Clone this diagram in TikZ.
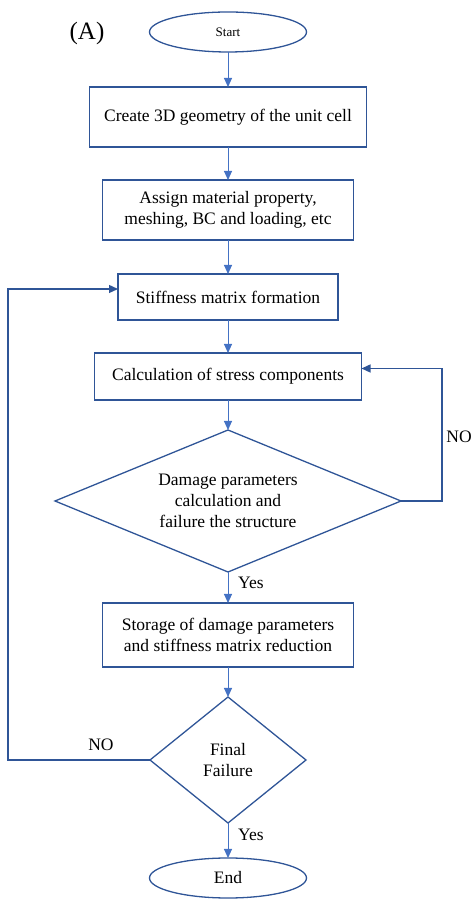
\documentclass[tikz,border=0pt]{standalone}
\usepackage{fontspec}
\setmainfont{Liberation Serif}
\usetikzlibrary{shapes.geometric, arrows.meta, positioning}
\definecolor{boxblue}{RGB}{47,85,151}
\definecolor{arrowblue}{RGB}{68,114,196}

\begin{document}
\begin{tikzpicture}[x=1pt, y=1pt, font=\fontsize{17.5}{21}\selectfont,
    flowbox/.style={draw=boxblue, line width=1.3pt, rectangle, align=center, inner sep=0pt, outer sep=0pt},
    terminal/.style={draw=boxblue, line width=1.3pt, ellipse, minimum width=157pt, minimum height=40pt, inner sep=0pt, outer sep=0pt},
    decision/.style={draw=boxblue, line width=1.3pt, diamond, align=center, inner sep=0pt, outer sep=0pt, shape aspect=2},
    flowarrow/.style={draw=arrowblue, line width=1pt, -{Triangle[length=9pt, width=8pt]}},
    looparrow/.style={draw=boxblue, line width=1.3pt, -{Triangle[length=9pt, width=8pt]}}]
  \useasboundingbox (0,0) rectangle (472,900);

  \node[font=\fontsize{25}{28}\selectfont] (label) at (87,867) {(A)};

  \node[terminal, font=\fontsize{13}{15}\selectfont] (start) at (228,868) {Start};
  \node[flowbox, minimum width=277pt, minimum height=60pt, below=35pt of start]
    (geom) {Create 3D geometry of the unit cell};
  \node[flowbox, minimum width=251pt, minimum height=60pt, below=33pt of geom]
    (assign) {Assign material property,\\meshing, BC and loading, etc};
  \node[flowbox, minimum width=220pt, minimum height=46pt, below=34pt of assign]
    (stiff) {Stiffness matrix formation};
  \node[flowbox, minimum width=267pt, minimum height=47pt, below=33pt of stiff]
    (stress) {Calculation of stress components};

  \node[decision, minimum width=346pt, minimum height=142pt, below=30pt of stress]
    (damage) {Damage parameters\\calculation and\\failure the structure};
  \node[flowbox, minimum width=251pt, minimum height=64pt, below=31pt of damage]
    (storage) {Storage of damage parameters\\and stiffness matrix reduction};
  \node[decision, minimum width=156pt, minimum height=126pt, below=30pt of storage]
    (final) {Final\\Failure};
  \node[terminal, below=35pt of final] (end) {End};

  \foreach \a/\b in {start/geom, geom/assign, assign/stiff, stiff/stress,
                     stress/damage, damage/storage, storage/final, final/end}
    \draw[flowarrow] (\a) -- (\b);

  % feedback loops
  \draw[looparrow] (damage.east) -- ++(41,0) |- ([yshift=8pt]stress.east);
  \draw[looparrow] (final.west) -- ++(-142,0) |- ([yshift=8pt]stiff.west);

  \node[inner sep=0pt, anchor=west] (yes1) at ([xshift=10pt, yshift=-11pt]damage.south) {Yes};
  \node[inner sep=0pt, anchor=west] (yes2) at ([xshift=10pt, yshift=-12pt]final.south) {Yes};
  \node[inner sep=0pt] (no1) at (459,463) {NO};
  \node[inner sep=0pt] (no2) at ([xshift=-49pt, yshift=15pt]final.west) {NO};
\end{tikzpicture}
\end{document}
